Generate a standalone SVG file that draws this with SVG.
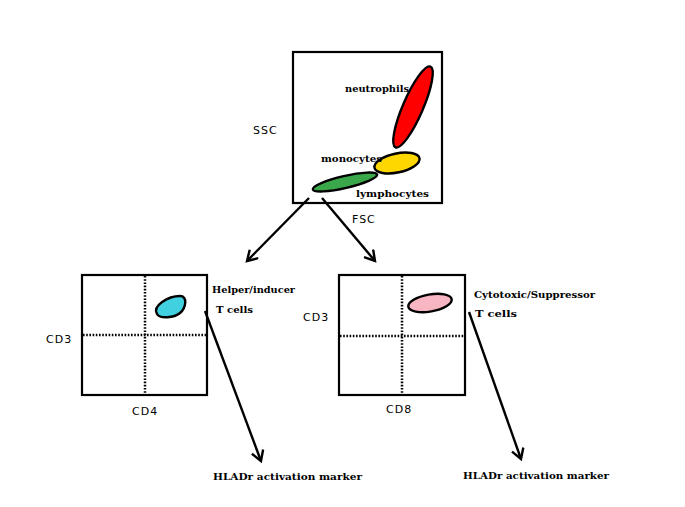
<svg xmlns="http://www.w3.org/2000/svg" width="685" height="507" viewBox="0 0 685 507">
<defs>
<style>
.box{fill:#fff;stroke:#000;stroke-width:2.2}
.dot{stroke:#000;stroke-width:2.5;stroke-dasharray:1.6 1.6;fill:none}
.blob{stroke:#000;stroke-width:2.4}
.sans{font-family:"DejaVu Sans",sans-serif;font-size:11px;letter-spacing:1px;fill:#000}
.serif{font-family:"DejaVu Serif",serif;font-size:10px;font-weight:bold;fill:#000}
.con{stroke:#000;stroke-width:2.4;fill:none}
</style>
<marker id="ah" markerWidth="14" markerHeight="14" refX="11" refY="7" orient="auto" markerUnits="userSpaceOnUse">
<path d="M1,1 L11,7 L1,13" fill="none" stroke="#000" stroke-width="2.4"/>
</marker>
</defs>
<rect width="685" height="507" fill="#fff"/>
<g id="scatter">
<rect class="box" x="293" y="52" width="149" height="151"/>
<ellipse class="blob" cx="413" cy="107" rx="44" ry="10" fill="#ff0000" transform="rotate(-66.6 413 107)"/>
<ellipse class="blob" cx="397" cy="163" rx="23" ry="9.5" fill="#ffd700" transform="rotate(-12 397 163)"/>
<ellipse class="blob" cx="345" cy="182" rx="33" ry="6" fill="#3aa84a" transform="rotate(-13 345 182)"/>
<text class="serif" x="345" y="92" textLength="64" lengthAdjust="spacingAndGlyphs">neutrophils</text>
<text class="serif" x="321" y="162" textLength="61" lengthAdjust="spacingAndGlyphs">monocytes</text>
<text class="serif" x="356" y="197" textLength="73" lengthAdjust="spacingAndGlyphs">lymphocytes</text>
<text class="sans" x="253" y="134">SSC</text>
<text class="sans" x="352" y="223">FSC</text>
</g>
<g id="cd4plot">
<rect class="box" x="82" y="275" width="125" height="120"/>
<line class="dot" x1="145" y1="276" x2="145" y2="393"/>
<line class="dot" x1="83" y1="335" x2="206" y2="335"/>
<path class="blob" fill="#40d0e0" d="M157,314 C152,306 168,296 180,296 C188,296 186,308 180,313 C174,318 160,319 157,314 Z"/>
<text class="serif" x="212" y="293" textLength="83" lengthAdjust="spacingAndGlyphs">Helper/inducer</text>
<text class="serif" x="216" y="313" textLength="37" lengthAdjust="spacingAndGlyphs">T cells</text>
<text class="sans" x="46" y="343">CD3</text>
<text class="sans" x="132" y="415">CD4</text>
</g>
<g id="cd8plot">
<rect class="box" x="339" y="275" width="126" height="120"/>
<line class="dot" x1="402" y1="276" x2="402" y2="393"/>
<line class="dot" x1="340" y1="336" x2="464" y2="336"/>
<ellipse class="blob" cx="430" cy="303" rx="22" ry="8.5" fill="#f7b6c2" transform="rotate(-10 430 303)"/>
<text class="serif" x="474" y="298" textLength="121" lengthAdjust="spacingAndGlyphs">Cytotoxic/Suppressor</text>
<text class="serif" x="475" y="317" textLength="42" lengthAdjust="spacingAndGlyphs">T cells</text>
<text class="sans" x="303" y="321">CD3</text>
<text class="sans" x="386" y="413">CD8</text>
</g>
<g id="hla1">
<text class="serif" x="213" y="480" textLength="149" lengthAdjust="spacingAndGlyphs">HLADr activation marker</text>
</g>
<g id="hla2">
<text class="serif" x="463" y="479" textLength="146" lengthAdjust="spacingAndGlyphs">HLADr activation marker</text>
</g>
<g id="connectors">
<line class="con" x1="309" y1="198" x2="247" y2="261" marker-end="url(#ah)"/>
<line class="con" x1="322" y1="198" x2="375" y2="261" marker-end="url(#ah)"/>
<line class="con" x1="205" y1="311" x2="261" y2="461" marker-end="url(#ah)"/>
<line class="con" x1="469" y1="312" x2="521" y2="459" marker-end="url(#ah)"/>
</g>
</svg>
